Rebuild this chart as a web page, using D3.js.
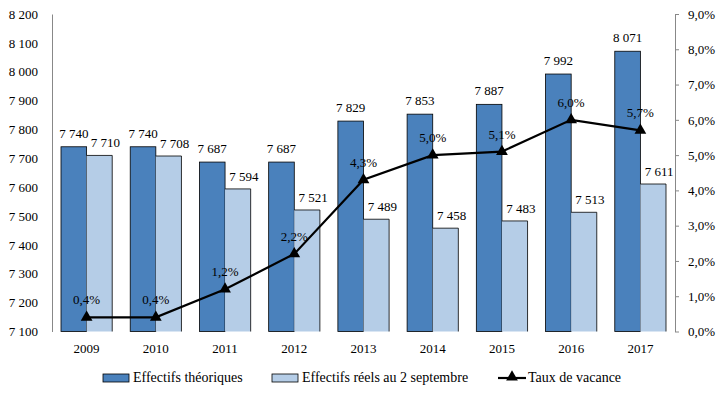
<!DOCTYPE html>
<html><head><meta charset="utf-8">
<script src="https://cdn.jsdelivr.net/npm/d3@7"></script>
<style>body{margin:0;background:#fff}svg{display:block}</style>
</head><body><svg id="c" width="726" height="399"></svg>
<script>
const years = ["2009","2010","2011","2012","2013","2014","2015","2016","2017"];
const effTheo = [7740,7740,7687,7687,7829,7853,7887,7992,8071];
const effReel = [7710,7708,7594,7521,7489,7458,7483,7513,7611];
const taux = [0.4,0.4,1.2,2.2,4.3,5.0,5.1,6.0,5.7];
const leftTicks = [7100,7200,7300,7400,7500,7600,7700,7800,7900,8000,8100,8200];
const rightTicks = [0,1,2,3,4,5,6,7,8,9];
const legendLabels = ["Effectifs théoriques","Effectifs réels au 2 septembre","Taux de vacance"];

const FONT = "'Liberation Serif', 'Times New Roman', 'DejaVu Serif', serif";
const dark = "#4A81BC", light = "#B5CDE7";
const svg = d3.select("#c");
const L = 52, R = 675, T = 14, B = 331.5;
const x = d3.scaleBand().domain(years).range([L, R]).paddingInner(0.26).paddingOuter(0.13);
const yL = d3.scaleLinear().domain([7100, 8200]).range([B, T]);
const yR = d3.scaleLinear().domain([0, 9]).range([B, T]);
const fmtN = d => d3.format(",")(d).replace(/,/g, " ");
const fmtP = d => d3.format(".1f")(d).replace(".", ",") + "%";
const bw = x.bandwidth() / 2;

// left axis
const gl = svg.append("g").attr("transform", `translate(${L},0)`)
  .call(d3.axisLeft(yL).tickValues(leftTicks).tickSize(0).tickPadding(14).tickFormat(fmtN));
gl.select(".domain").attr("stroke", "#888");

// right axis
const gr = svg.append("g").attr("transform", `translate(${R},0)`)
  .call(d3.axisRight(yR).tickValues(rightTicks).tickSize(4).tickSizeOuter(0).tickPadding(9).tickFormat(fmtP));
gr.select(".domain").attr("stroke", "#888");
gr.selectAll(".tick line").attr("stroke", "#888");

// bars
svg.append("g").selectAll("rect").data(years).join("rect")
  .attr("x", d => x(d)).attr("width", bw)
  .attr("y", (d, i) => yL(effTheo[i])).attr("height", (d, i) => B - yL(effTheo[i]))
  .attr("fill", dark).attr("stroke", "#000").attr("stroke-width", 0.8);
svg.append("g").selectAll("rect").data(years).join("rect")
  .attr("x", d => x(d) + bw).attr("width", bw)
  .attr("y", (d, i) => yL(effReel[i])).attr("height", (d, i) => B - yL(effReel[i]))
  .attr("fill", light);
svg.append("g").selectAll("path").data(years).join("path")
  .attr("d", (d, i) => { const x0 = x(d) + bw, x1 = x(d) + 2 * bw, y0 = yL(effReel[i]);
    return `M${x0},${y0}H${x1}V${B}`; })
  .attr("fill", "none").attr("stroke", "#000").attr("stroke-width", 0.8);

// bar labels
svg.append("g").selectAll("text").data(years).join("text")
  .attr("x", d => x(d) + bw / 2).attr("y", (d, i) => yL(effTheo[i]) - 9)
  .attr("text-anchor", "middle").text((d, i) => fmtN(effTheo[i]));
svg.append("g").selectAll("text").data(years).join("text")
  .attr("x", d => x(d) + bw * 1.5 + 6).attr("y", (d, i) => yL(effReel[i]) - 8)
  .attr("text-anchor", "middle").text((d, i) => fmtN(effReel[i]));

// line
const cx = d => x(d) + bw;
svg.append("path").datum(years)
  .attr("d", d3.line().x(d => cx(d)).y((d, i) => yR(taux[i])))
  .attr("fill", "none").attr("stroke", "#000").attr("stroke-width", 2.2);
const tri = d3.symbol().type(d3.symbolTriangle).size(60);
svg.append("g").selectAll("path").data(years).join("path")
  .attr("transform", (d, i) => `translate(${cx(d)},${yR(taux[i])})`)
  .attr("d", tri).attr("fill", "#000");
svg.append("g").selectAll("text").data(years).join("text")
  .attr("x", d => cx(d)).attr("y", (d, i) => yR(taux[i]) - 13)
  .attr("text-anchor", "middle").text((d, i) => fmtP(taux[i]));

// x labels
svg.append("g").selectAll("text").data(years).join("text")
  .attr("x", d => cx(d)).attr("y", 353)
  .attr("text-anchor", "middle").text(d => d);

svg.selectAll("text").attr("font-family", FONT).style("font-family", FONT)
  .attr("font-size", 13).attr("fill", "#000");

// legend
const lg = svg.append("g").attr("font-family", FONT).style("font-family", FONT).attr("font-size", 14);
lg.append("rect").attr("x", 103).attr("y", 374).attr("width", 26).attr("height", 8)
  .attr("fill", dark).attr("stroke", "#000").attr("stroke-width", 0.8);
lg.append("text").attr("x", 133).attr("y", 382).text(legendLabels[0]);
lg.append("rect").attr("x", 272).attr("y", 374).attr("width", 26).attr("height", 8)
  .attr("fill", light).attr("stroke", "#000").attr("stroke-width", 0.8);
lg.append("text").attr("x", 302).attr("y", 382).text(legendLabels[1]);
lg.append("line").attr("x1", 498).attr("x2", 526).attr("y1", 378).attr("y2", 378)
  .attr("stroke", "#000").attr("stroke-width", 2.2);
lg.append("path").attr("transform", "translate(512,377)").attr("d", tri).attr("fill", "#000");
lg.append("text").attr("x", 528).attr("y", 382).text(legendLabels[2]);
</script></body></html>
